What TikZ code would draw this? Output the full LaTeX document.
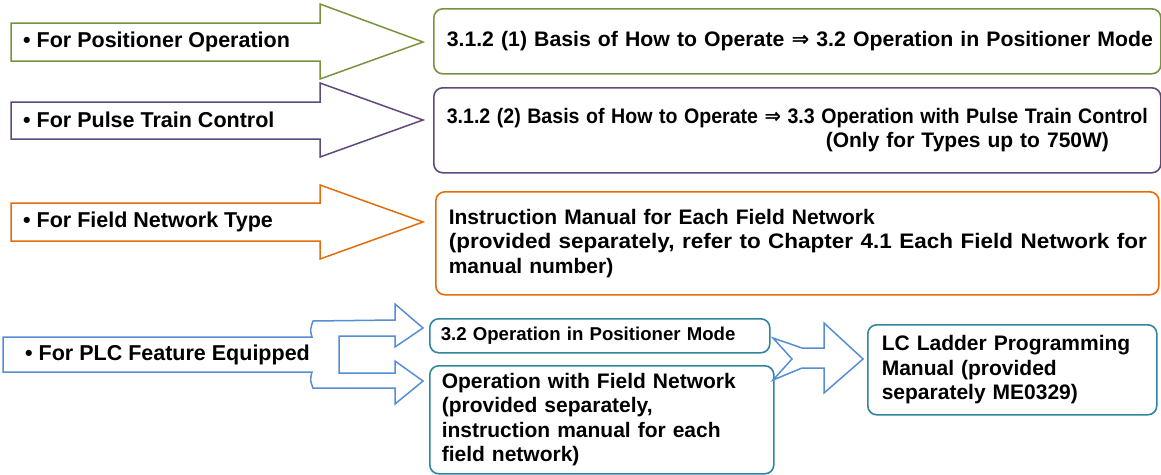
\documentclass[tikz,border=0pt]{standalone}
\usepackage{fontspec}
\setmainfont{Liberation Sans}
\newfontfamily\arrowfont{DejaVu Sans}
\usetikzlibrary{positioning}

\definecolor{posgreen}{HTML}{77933C}
\definecolor{pulsepurple}{HTML}{5F497A}
\definecolor{fieldorange}{HTML}{E46C0A}
\definecolor{plcblue}{HTML}{558ED5}
\definecolor{boxteal}{HTML}{31859C}

\begin{document}
\begin{tikzpicture}[x=1pt, y=-1pt,
    bigarrow/.style={line width=1.5pt, line join=miter, fill=white},
    armlabel/.style={anchor=west, inner sep=0pt, font=\fontsize{21.5}{24.5}\selectfont\bfseries},
    refbox/.style={draw, line width=1.6pt, rounded corners=9pt, anchor=north west, align=left,
      inner xsep=13pt, inner ysep=0pt, font=\fontsize{21}{24.5}\selectfont\bfseries}]
      \useasboundingbox (0,0) rectangle (1161,474);

      \draw[bigarrow, draw=posgreen] (11,23) -- (320,23) -- (320,4) -- (423,42) -- (320,79) -- (320,61) -- (11,61) -- cycle;
      \draw[bigarrow, draw=pulsepurple] (11,102) -- (320,102) -- (320,83) -- (423,120) -- (320,157) -- (320,139) -- (11,139) -- cycle;
      \draw[bigarrow, draw=fieldorange] (11,203) -- (320,203) -- (320,185) -- (423,222) -- (320,259) -- (320,241) -- (11,241) -- cycle;
      \draw[bigarrow, draw=plcblue] (3,337) -- (312,337) .. controls (310,330) .. (313,321) -- (395,320) -- (395,304) -- (423,328)
        -- (395,347) -- (395,336) -- (339,336) -- (339,373) -- (395,373) -- (395,361) -- (423,381) -- (395,404)
        -- (395,388) -- (313,388) .. controls (310,380) .. (312,372) -- (3,372) -- cycle;

      \node[armlabel] (posarm) at (23,42) {• For Positioner Operation};
      \node[armlabel] (pulsearm) at (23,120) {• For Pulse Train Control};
      \node[armlabel] (fieldarm) at (23,222) {• For Field Network Type};
      \node[armlabel] (plcarm) at (25,355) {• For PLC Feature Equipped};

      \node[refbox, draw=posgreen, text width=701pt, minimum height=65pt] (posbox) at (433,8)
        {\resizebox{706pt}{\height}{3.1.2 (1) Basis of How to Operate\hspace{7pt}{\arrowfont\bfseries\fontsize{21}{21}\selectfont ⇒}\hspace{7pt}3.2 Operation in Positioner Mode}};
      \node[refbox, draw=pulsepurple, text width=701pt, minimum height=85pt] (pulsebox) at (433,87)
        {\resizebox{701pt}{\height}{3.1.2 (2) Basis of How to Operate\hspace{7pt}{\arrowfont\bfseries\fontsize{21}{21}\selectfont ⇒}\hspace{7pt}3.3 Operation with Pulse Train Control}\\
         \hspace*{379pt}(Only for Types up to 750W)};
      \node[refbox, draw=fieldorange, text width=697pt, minimum height=103pt] (fieldbox) at (435,191)
        {Instruction Manual for Each Field Network\\
         \resizebox{698pt}{\height}{(provided separately, refer to Chapter 4.1 Each Field Network for}\\
         manual number)};
      \node[refbox, draw=boxteal, text width=318pt, minimum height=34pt, inner xsep=11pt,
        font=\fontsize{18.6}{22}\selectfont\bfseries] (plcpos) at (429,318) {3.2 Operation in Positioner Mode};
      \node[refbox, draw=boxteal, text width=320pt, minimum height=108pt, inner xsep=12pt] (plcfield) at (429,365)
        {Operation with Field Network\\
         (provided separately,\\
         instruction manual for each\\
         field network)};
      \node[refbox, draw=boxteal, text width=261pt, minimum height=90pt, inner xsep=14pt] (ladder) at (867,324)
        {LC Ladder Programming\\
         Manual (provided\\
         separately ME0329)};

      \draw[bigarrow, draw=plcblue] (773,338) -- (802,348) -- (824,348) -- (824,323) -- (863,359) -- (824,393)
        -- (824,368) -- (802,368) -- (773,380) -- (792,359) -- cycle;
    \end{tikzpicture}
\end{document}
